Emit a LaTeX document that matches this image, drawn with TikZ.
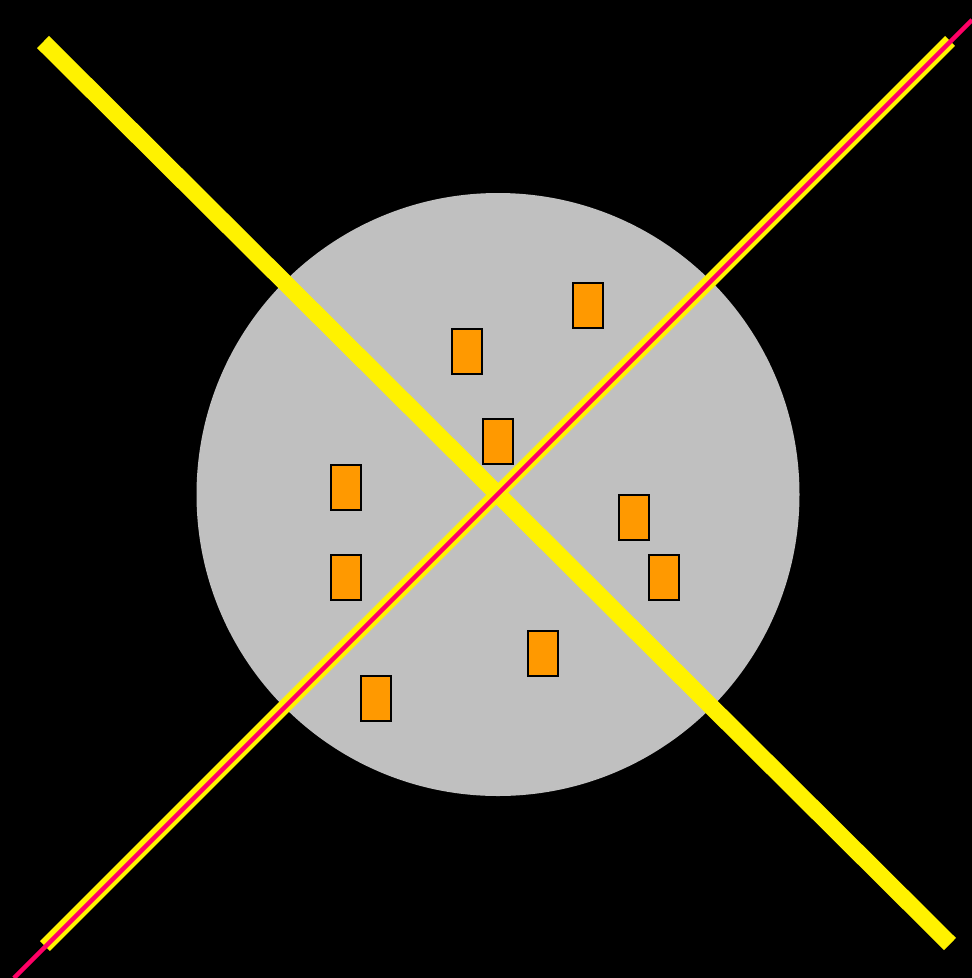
\documentclass[tikz,border=0pt]{standalone}
\begin{document}
\begin{tikzpicture}[x=1pt,y=-1pt,
  box/.style={draw=black,line width=2pt,fill=boxorange,minimum width=30pt,minimum height=45pt,inner sep=0pt},
  yel/.style={draw=yellow,line cap=butt},
]
\definecolor{boxorange}{HTML}{FF9900}
\definecolor{disc}{HTML}{C0C0C0}
\definecolor{redline}{HTML}{FF0066}
\useasboundingbox (0,0) rectangle (972,978);
\fill[black] (0,0) rectangle (972,978);
\fill[disc] (498,494.5) circle (301.5);
\node[box] (r1) at (588,305) {};
\node[box] (r2) at (467,351) {};
\node[box] (r3) at (498,441) {};
\node[box] (r4) at (346,487) {};
\node[box] (r5) at (634,517) {};
\node[box] (r6) at (346,577) {};
\node[box] (r7) at (664,577) {};
\node[box] (r8) at (543,653) {};
\node[box] (r9) at (376,698) {};
\coordinate (a1) at (43,42);
\coordinate (a2) at (950,944);
\coordinate (b1) at (45,946);
\coordinate (b2) at (950,41);
\coordinate (c1) at (14,978);
\coordinate (c2) at (972,20);
\draw[yel,line width=17pt] (a1) -- (a2);
\draw[yel,line width=14pt] (b1) -- (b2);
\draw[redline,line width=4.5pt] (c1) -- (c2);
\end{tikzpicture}
\end{document}
